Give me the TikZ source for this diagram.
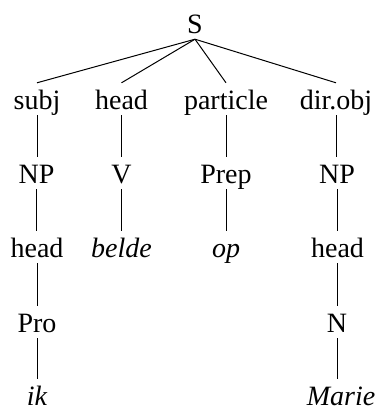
\documentclass[tikz,border=0pt]{standalone}
\usepackage{fontspec}
\setmainfont{Liberation Serif}
\begin{document}
\begin{tikzpicture}[x=1pt,y=1pt,
  lbl/.style={anchor=base,inner xsep=1pt,inner ysep=6pt,text height=20pt,text depth=0pt,font=\fontsize{28}{32}\selectfont},
  edge/.style={line width=1pt}]
\useasboundingbox (0,0) rectangle (382,-410);
\node[lbl] (S) at (195,-33) {S};
\node[lbl] (subj) at (37,-109) {subj};
\node[lbl] (head1) at (121.5,-109) {head};
\node[lbl] (part) at (226,-109) {particle};
\node[lbl] (dobj) at (336,-109) {dir.obj};
\node[lbl] (NP1) at (36.5,-183) {NP};
\node[lbl] (V) at (121.5,-183) {V};
\node[lbl] (Prep) at (226,-183) {Prep};
\node[lbl] (NP2) at (337,-183) {NP};
\node[lbl] (head2) at (37,-257) {head};
\node[lbl] (belde) at (121.5,-257) {\itshape belde};
\node[lbl] (op) at (226,-257) {\itshape op};
\node[lbl] (head3) at (337.5,-257) {head};
\node[lbl] (Pro) at (37,-332) {Pro};
\node[lbl] (N) at (337,-332) {N};
\node[lbl] (ik) at (37,-405) {\itshape ik};
\node[lbl] (Marie) at (341,-405) {\itshape Marie};
\coordinate (Sb) at (S.south);
\draw[edge] (Sb) -- (subj.north);
\draw[edge] (Sb) -- (head1.north);
\draw[edge] (Sb) -- (part.north);
\draw[edge] (Sb) -- (dobj.north);
\draw[edge] (subj.south) -- (subj.south |- NP1.north);
\draw[edge] (head1.south) -- (V.north);
\draw[edge] (part.south) -- (Prep.north);
\draw[edge] (dobj.south) -- (dobj.south |- NP2.north);
\draw[edge] (NP1.south) -- (NP1.south |- head2.north);
\draw[edge] (V.south) -- (belde.north);
\draw[edge] (Prep.south) -- (op.north);
\draw[edge] (NP2.south) -- (NP2.south |- head3.north);
\draw[edge] (head2.south) -- (head2.south |- Pro.north);
\draw[edge] (head3.south) -- (head3.south |- N.north);
\draw[edge] (Pro.south) -- (Pro.south |- ik.north);
\draw[edge] (N.south) -- (N.south |- Marie.north);
\end{tikzpicture}
\end{document}
